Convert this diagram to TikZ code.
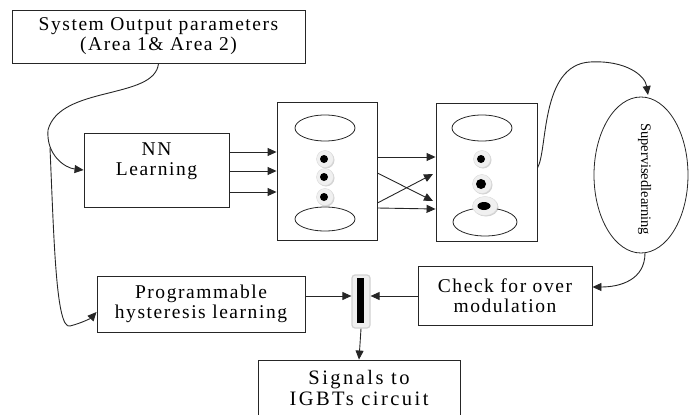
\documentclass[tikz,border=0pt]{standalone}
\usepackage{fontspec}
\setmainfont{Liberation Serif}
\newfontfamily\spfont[LetterSpace=8]{Liberation Serif}
\newfontfamily\bgfont[LetterSpace=12]{Liberation Serif}
\usetikzlibrary{arrows.meta,shapes.geometric,shadows}
\begin{document}
\begin{tikzpicture}[x=1pt,y=-1pt,
  box/.style={draw=black!85, line width=0.9pt, rectangle, inner sep=0pt},
  txt/.style={font=\spfont\fontsize{19.5}{20}\selectfont, align=center, inner sep=0pt},
  bigtxt/.style={font=\bgfont\fontsize{20.5}{21}\selectfont, align=center, inner sep=0pt},
  arr/.style={draw=black!85, line width=0.9pt, -{Triangle[length=9pt,width=8pt]}},
  lay/.style={draw=black!85, line width=0.8pt, ellipse, inner sep=0pt},
  neur/.style={circle, inner sep=0pt, minimum size=17pt, fill=gray!12, draw=gray!30,
    drop shadow={shadow xshift=1pt, shadow yshift=-1pt, opacity=0.35}},
  dot/.style={circle, fill=black, inner sep=0pt, minimum size=8pt}
]
\useasboundingbox (0,0) rectangle (689,415);

% boxes
\node[box, txt, minimum width=293pt, minimum height=53pt] (sys) at (158.5,36.5) {System Output parameters\\(Area 1\& Area 2)};
\node[box, minimum width=145pt, minimum height=74pt] (nn) at (156.5,170) {};
\node[txt] (nnt) at (156.5,161) {NN\\Learning};

\node[box, minimum width=100pt, minimum height=138pt] (l1) at (327,171) {};
\node[box, minimum width=101pt, minimum height=138pt] (l2) at (486.5,172) {};

\node[lay, minimum width=60pt, minimum height=26pt] (l1a) at (325,128) {};
\node[lay, minimum width=60pt, minimum height=24pt] (l1b) at (325,219) {};
\node[lay, minimum width=60pt, minimum height=26pt] (l2a) at (482,128) {};
\node[lay, minimum width=64pt, minimum height=28pt] (l2b) at (485,222) {};

\node[neur] (n11) at (325,159) {};
\node[dot] (d11) at (324,159) {};
\node[neur] (n12) at (325,177) {};
\node[dot] (d12) at (324,177) {};
\node[neur] (n13) at (325,197) {};
\node[dot] (d13) at (324,197) {};
\node[neur] (n21) at (482,159) {};
\node[dot] (d21) at (481,159) {};
\node[neur, minimum size=19pt] (n22) at (482,184) {};
\node[dot, minimum size=10pt] (d22) at (481,184) {};
\node[neur, ellipse, minimum width=25pt, minimum height=19pt] (n23) at (485,206) {};
\node[dot, ellipse, minimum width=13pt, minimum height=8pt] (d23) at (484,206) {};

\node[draw=black!85, line width=0.8pt, ellipse, inner sep=0pt, minimum width=94pt, minimum height=156pt] (sup) at (641,175) {};
\node[rotate=-90, anchor=west, inner sep=0pt, font=\fontsize{14.5}{16}\selectfont] (supt) at (644.5,123) {Supervisedlearning};

\node[box, txt, minimum width=174pt, minimum height=59pt] (chk) at (505,295.5) {Check for over\\modulation};
\node[box, txt, minimum width=208pt, minimum height=56pt] (prog) at (201,304) {Programmable\\hysteresis learning};

\node[draw=gray!35, fill=gray!12, rounded corners=3pt, line width=1.2pt, inner sep=0pt, minimum width=18pt, minimum height=53pt] (bar) at (361,301.5) {};
\node[fill=black, inner sep=0pt, minimum width=7pt, minimum height=45pt] (barb) at (360,300.5) {};

\node[box, minimum width=202pt, minimum height=70pt] (sig) at (359,395) {};
\node[bigtxt] (sigt) at (359,388) {Signals to\\IGBTs circuit};

% connectors
\coordinate (br) at (50,148);
\draw[arr] (sys.south) .. controls (155,100) and (60,85) .. (48,130)
  .. controls (46,155) and (65,168) .. (nn.west);
\draw[arr] (br) .. controls (54,240) and (56,330) .. (70,326)
  .. controls (82,323) and (91,318) .. (prog.west |- 0,312);

\draw[arr] (nn.east |- 0,152) -- (l1.west |- 0,152);
\draw[arr] (nn.east |- 0,171) -- (l1.west |- 0,171);
\draw[arr] (nn.east |- 0,192) -- (l1.west |- 0,192);

\draw[arr] (l1.east |- 0,157) -- (l2.west |- 0,157);
\draw[arr] (l1.east |- 0,173) -- (433,201);
\draw[arr] (l1.east |- 0,203) -- (433,174);
\draw[arr] (l1.east |- 0,208) -- (l2.west |- 0,209);

\draw[arr] (l2.east |- 0,168) .. controls (548,150) and (540,65) .. (590,62)
  .. controls (625,60) and (645,75) .. (648,95);
\draw[arr] (645,253) .. controls (645,280) and (620,287) .. (chk.east |- 0,287);

\draw[arr] (prog.east |- 0,296) -- (bar.west |- 0,296);
\draw[arr] (chk.west |- 0,296) -- (bar.east |- 0,296);
\draw[arr] (bar.south) -- (sig.north);
\end{tikzpicture}
\end{document}
